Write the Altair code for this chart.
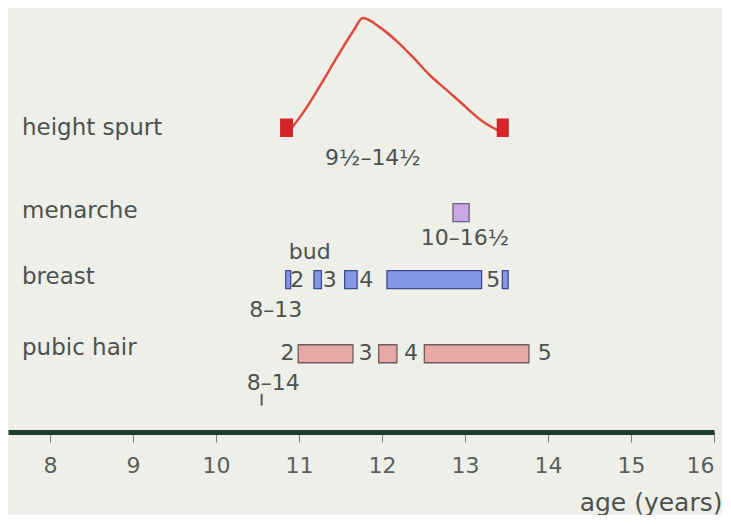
import altair as alt
import pandas as pd

FONT = "DejaVu Sans"
TEXT = "#4d524e"

# ---- rows (label, level on the vertical scale) ----
row_names = ["height spurt", "menarche", "breast", "pubic hair"]
row_levels = [306, 221, 154, 81]

# ---- height spurt curve (age, relative level) ----
curve_age = [10.89, 11.05, 11.25, 11.46, 11.65, 11.77, 11.98, 12.18, 12.37,
             12.58, 12.78, 12.98, 13.18, 13.39]
curve_val = [304, 322, 349, 379, 405, 419, 409, 395, 379, 360, 345, 330, 315, 304]

# height spurt end markers
spurt_start = [10.78, 13.39]
spurt_end = [10.92, 13.52]
spurt_level = [306.5, 306.5]

# menarche box
men_start = [12.855]
men_end = [13.05]
men_level = [219.5]

# breast stages
breast_start = [10.84, 11.18, 11.55, 12.06, 13.45]
breast_end = [10.90, 11.27, 11.70, 13.20, 13.52]
breast_level = [151] * 5

# pubic hair stages
pubic_start = [10.99, 11.96, 12.51]
pubic_end = [11.65, 12.18, 13.77]
pubic_level = [75] * 3

# annotations (text, age, level)
ann_text = ["9½–14½", "10–16½", "bud", "2", "3", "4", "5", "8–13",
            "2", "3", "4", "5", "8–14"]
ann_age = [11.89, 13.0, 11.13, 10.98, 11.37, 11.81, 13.34, 10.72,
           10.86, 11.80, 12.35, 13.96, 10.69]
ann_level = [275, 194, 179, 151, 151, 151, 151, 120,
             76, 76, 76, 76, 45]

# small tick under 8–14
tick_age = [10.55]
tick_lo = [22]
tick_hi = [34]

x_ticks = [8, 9, 10, 11, 12, 13, 14, 15, 16]

xs = alt.Scale(domain=[7.494, 16], nice=False, zero=False)
ys = alt.Scale(domain=[0, 424], nice=False, zero=True)

X = lambda f: alt.X(f, type="quantitative", scale=xs,
                    axis=alt.Axis(values=x_ticks, title="age (years)", grid=False))
Y = lambda f: alt.Y(f, type="quantitative", scale=ys, axis=None)

curve_df = pd.DataFrame({"age": curve_age, "lvl": curve_val})
curve = alt.Chart(curve_df).mark_line(
    color="#de4a3f", strokeWidth=2.5, interpolate="monotone"
).encode(x=X("age"), y=Y("lvl"))

def bars(start, end, level, fill, stroke, size):
    df = pd.DataFrame({"s": start, "e": end, "lvl": level})
    return alt.Chart(df).mark_bar(
        fill=fill, stroke=stroke, strokeWidth=1.3, size=size, orient="horizontal"
    ).encode(x=X("s"), x2="e", y=Y("lvl"))

markers = bars(spurt_start, spurt_end, spurt_level, "#d3262b", "#d3262b", 17)
menarche = bars(men_start, men_end, men_level, "#c7a7e4", "#6d5f7f", 18)
breast = bars(breast_start, breast_end, breast_level, "#8496e6", "#3d4b8e", 18)
pubic = bars(pubic_start, pubic_end, pubic_level, "#e8a8a6", "#6d5d5a", 18)

ann_df = pd.DataFrame({"t": ann_text, "age": ann_age, "lvl": ann_level})
ann = alt.Chart(ann_df).mark_text(
    font=FONT, fontSize=22, color=TEXT, baseline="middle", align="center"
).encode(x=X("age"), y=Y("lvl"), text="t")

rows_df = pd.DataFrame({"name": row_names, "lvl": row_levels})
rows = alt.Chart(rows_df).mark_text(
    font=FONT, fontSize=23, color=TEXT, baseline="middle", align="left"
).encode(x=alt.value(14), y=Y("lvl"), text="name")

tick_df = pd.DataFrame({"age": tick_age, "lo": tick_lo, "hi": tick_hi})
tick = alt.Chart(tick_df).mark_rule(color="#555a56", strokeWidth=2).encode(
    x=X("age"), y=Y("lo"), y2="hi")

chart = alt.layer(curve, markers, menarche, breast, pubic, ann, rows, tick).properties(
    width=706, height=424,
    padding={"left": 0, "top": 0, "right": 0, "bottom": 0},
    background="#eeefe9",
).configure_view(stroke=None).configure_axisX(
    domainColor="#1f3f2c", domainWidth=5, domainCap="butt",
    tickColor="#7a7f7a", tickWidth=1, tickSize=10,
    labelFont=FONT, labelFontSize=22, labelColor="#5a5f5b", labelPadding=13,
    titleFont=FONT, titleFontSize=25, titleFontWeight="normal", titleColor=TEXT,
    titleAnchor="end", titleAlign="right", titleBaseline="middle",
    titleX=714, titleY=70,
)

chart.save("out.html", embed_options={"renderer": "svg", "actions": False})
